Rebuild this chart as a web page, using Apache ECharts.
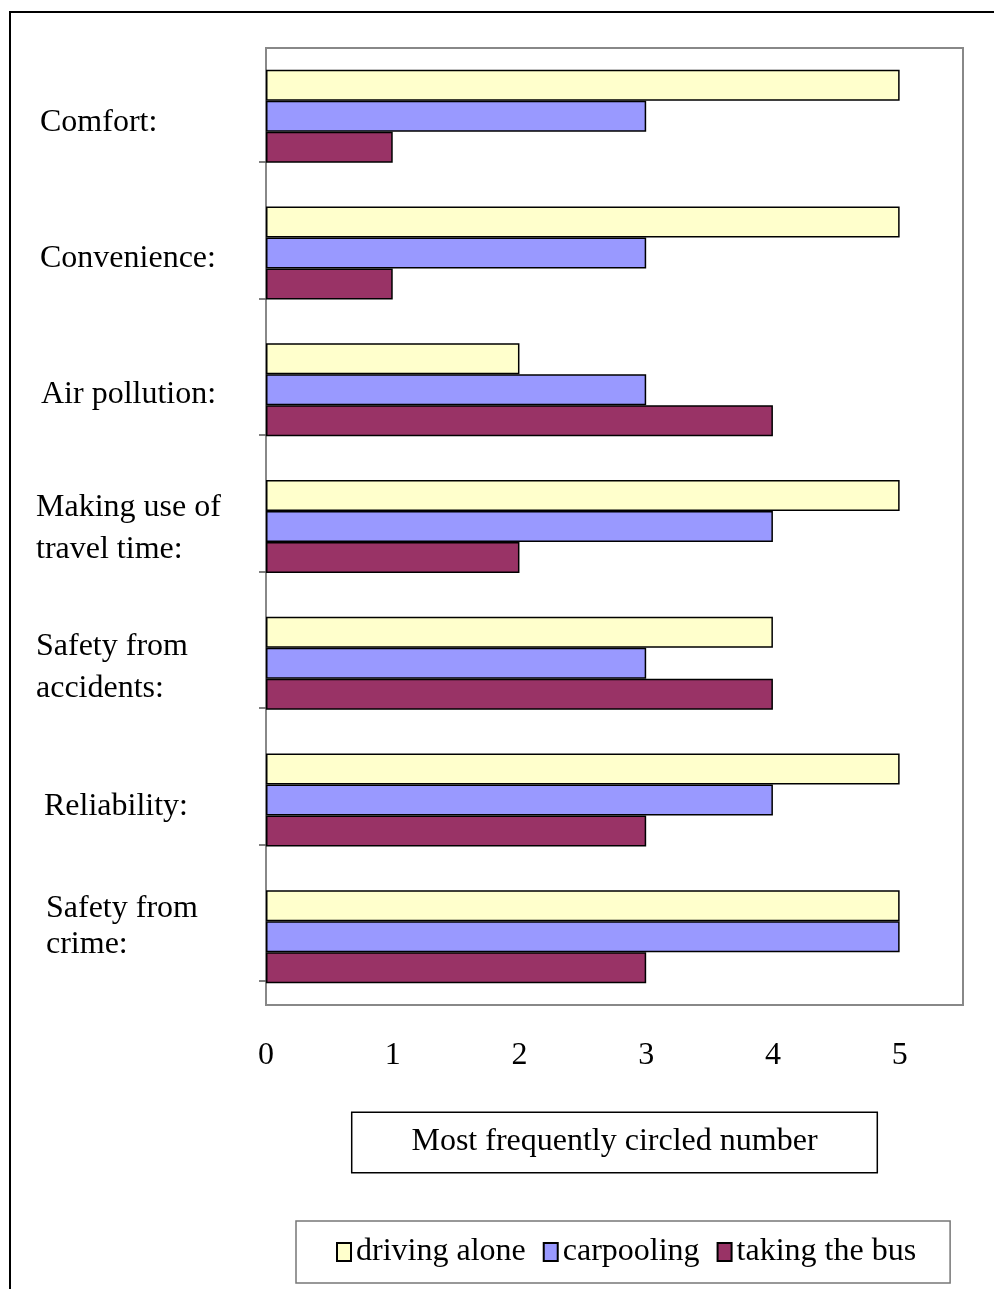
<!DOCTYPE html>
<html>
<head>
<meta charset="utf-8">
<script src="https://cdn.jsdelivr.net/npm/echarts@6/dist/echarts.min.js"></script>
<style>
html,body{margin:0;padding:0;background:#fff;}
#chart{width:994px;height:1289px;}
</style>
</head>
<body>
<div id="chart"></div>
<script>
const categories = ['Comfort:', 'Convenience:', 'Air pollution:', 'Making use of\ntravel time:', 'Safety from\naccidents:', 'Reliability:', 'Safety from\ncrime:'];
const seriesNames = ['driving alone', 'carpooling', 'taking the bus'];
const drivingAlone = [5, 5, 2, 5, 4, 5, 5];
const carpooling = [3, 3, 3, 4, 3, 4, 5];
const takingBus = [1, 1, 4, 2, 4, 3, 3];
const xTicks = [0, 1, 2, 3, 4, 5];
const xAxisTitle = 'Most frequently circled number';

const colors = ['#FFFFCC', '#9999FF', '#993366'];
const FONT = '"Liberation Serif", "Times New Roman", serif';
const FS = 32;
const values = [drivingAlone, carpooling, takingBus];

// per-label text placement tweaks (style only)
const labelRich = {
  l0: {padding: [12, 0, 0, 4]},
  l1: {padding: [12, 0, 0, 4]},
  l2: {padding: [10, 0, 0, 5]},
  l3: {padding: [4, 0, 0, 0]},
  l4: {padding: [8, 0, 0, 0]},
  l5: {padding: [14, 0, 0, 8]},
  l6: {padding: [0, 0, 20, 10], lineHeight: 36}
};
Object.keys(labelRich).forEach(k => {
  labelRich[k].fontFamily = FONT;
  labelRich[k].fontSize = FS;
  labelRich[k].color = '#000';
  if (!labelRich[k].lineHeight) labelRich[k].lineHeight = 42;
});

const chart = echarts.init(document.getElementById('chart'), null, {renderer: 'canvas'});
chart.setOption({
  animation: false,
  backgroundColor: '#fff',
  textStyle: {fontFamily: FONT, color: '#000'},
  graphic: [{
    type: 'rect', silent: true,
    shape: {x: 10, y: 12, width: 1100, height: 1400},
    style: {fill: 'none', stroke: '#000', lineWidth: 2}
  }],
  grid: [
    {left: 266, top: 48, right: 31, bottom: 284, show: true, borderColor: '#888', borderWidth: 2, backgroundColor: 'transparent'},
    {left: 266, top: 162, right: 31, bottom: 308, show: false}
  ],
  xAxis: [{
    gridIndex: 0, type: 'value', min: 0, max: 5.5, interval: 1,
    axisLine: {show: false}, axisTick: {show: false}, splitLine: {show: false},
    axisLabel: {
      fontFamily: FONT, fontSize: FS, color: '#000', margin: 35,
      formatter: v => (xTicks.indexOf(v) >= 0 ? String(v) : '')
    },
    name: xAxisTitle, nameLocation: 'middle', nameGap: 108,
    nameTextStyle: {
      fontFamily: FONT, fontSize: FS, color: '#000',
      borderColor: '#000', borderWidth: 1.5, padding: [13, 59, 14, 59], backgroundColor: '#fff',
      verticalAlign: 'top'
    }
  }, {
    gridIndex: 1, type: 'value', min: 0, max: 5.5, show: false
  }],
  yAxis: [{
    gridIndex: 0, type: 'category', inverse: true, data: categories,
    axisLine: {show: false}, axisTick: {show: false},
    axisLabel: {
      fontFamily: FONT, fontSize: FS, color: '#000', align: 'left', margin: 230, lineHeight: 42,
      formatter: (v, i) => v.split('\n').map(s => '{l' + i + '|' + s + '}').join('\n'),
      rich: labelRich
    }
  }, {
    gridIndex: 1, type: 'category', inverse: true, data: ['', '', '', '', '', ''],
    axisLine: {show: false}, axisLabel: {show: false},
    axisTick: {show: true, length: 7, lineStyle: {color: '#555', width: 1.5}}
  }],
  legend: {
    data: seriesNames,
    left: 296, top: 1221,
    orient: 'horizontal',
    itemWidth: 14, itemHeight: 18, itemGap: 17,
    padding: [15, 34, 15, 40],
    borderColor: '#777', borderWidth: 1.5,
    textStyle: {fontFamily: FONT, fontSize: FS, color: '#000'},
    icon: 'rect'
  },
  series: seriesNames.map((n, i) => ({
    name: n, type: 'bar', xAxisIndex: 0, yAxisIndex: 0,
    data: values[i],
    barGap: '0%', barCategoryGap: '32%',
    itemStyle: {color: colors[i], borderColor: '#000', borderWidth: 1.5},
    emphasis: {disabled: true}
  }))
});
</script>
</body>
</html>
